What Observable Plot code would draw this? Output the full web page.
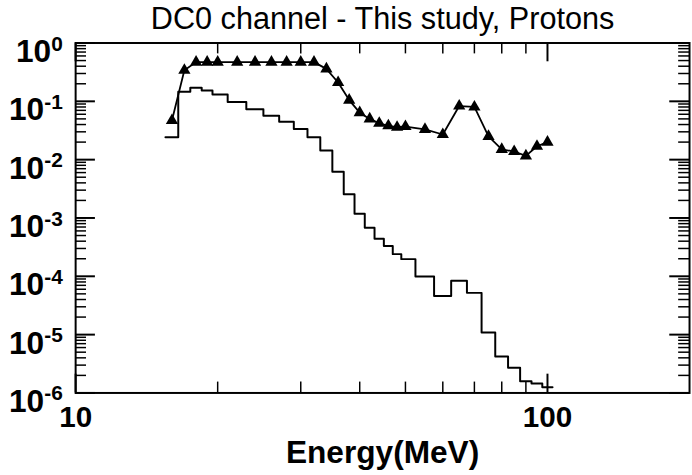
<!DOCTYPE html>
<html><head><meta charset="utf-8">
<script src="https://cdn.jsdelivr.net/npm/d3@7"></script>
<script src="https://cdn.jsdelivr.net/npm/@observablehq/plot@0.6"></script>
<style>
html,body{margin:0;padding:0;background:#fff;overflow:hidden;width:692px;height:475px}
svg{display:block}
</style></head><body><div id="chart"></div>
<script>
// ---- data ----
const titleText = "DC0 channel - This study, Protons";
const xLabel = "Energy(MeV)";
const energies = [16,17,18,19,20,22,24,26,28,30,32,34,36,38,40,42,44,46,48,50,55,60,65,70,75,80,85,90,95,100];
const triangleValues = [0.047,0.34,0.47,0.47,0.47,0.47,0.47,0.47,0.47,0.47,0.47,0.36,0.21,0.105,0.064,0.05,0.042,0.038,0.036,0.037,0.033,0.027,0.083,0.080,0.025,0.015,0.0138,0.0116,0.017,0.020];
const histValues = [0.0243,0.146,0.171,0.153,0.131,0.0975,0.0732,0.0564,0.0446,0.0335,0.0243,0.0144,0.0062,0.00255,0.00118,0.00068,0.00044,0.00033,0.00024,0.000197,9.9e-5,4.6e-5,8.4e-5,5.2e-5,1.09e-5,4.2e-6,2.7e-6,1.58e-6,1.45e-6,1.25e-6];
const yMajor = [1e-6,1e-5,1e-4,1e-3,1e-2,1e-1,1];
const yExponents = ["-6","-5","-4","-3","-2","-1","0"];
const xMajor = [10,100];
const xMajorLabels = ["10","100"];
const xMinor = [20,30,40,50,60,70,80,90];
const minorMult = [2,3,4,5,6,7,8,9];

// ---- derived tables ----
const yMinor = yMajor.slice(0,-1).flatMap(d => minorMult.map(m => m*d));
const triPts = energies.map((e,i) => ({x:e, y:triangleValues[i]}));
const stepPts = energies.flatMap((e,i) => {
  const prev = i > 0 ? energies[i-1] : e - (energies[1]-energies[0]);
  const next = i < energies.length-1 ? energies[i+1] : e + (e - energies[i-1]);
  return [{x:(prev+e)/2, y:histValues[i]}, {x:(e+next)/2, y:histValues[i]}];
});
const yLab = yMajor.map((v,i) => ({v, t: "10^" + yExponents[i]}));
const xLab = xMajor.map((v,i) => ({v, t: xMajorLabels[i]}));

const W = 700, H = 475, mL = 76, mR = 3, mT = 43, mB = 78;
const pw = W - mL - mR, ph = H - mT - mB;
const font = "Liberation Sans, Arial, Helvetica, sans-serif";

const chart = Plot.plot({
  width: W, height: H,
  marginLeft: mL, marginRight: mR, marginTop: mT, marginBottom: mB,
  style: {fontFamily: font, background: "#fff", color: "#000"},
  x: {type: "log", domain: [10, 200], axis: null},
  y: {type: "log", domain: [1e-6, 1], axis: null},
  marks: [
    // ticks (inward, all four sides)
    Plot.tickY(yMajor, {y: d => d, insetRight: pw - 20, stroke: "#000", strokeWidth: 2}),
    Plot.tickY(yMinor, {y: d => d, insetRight: pw - 11, stroke: "#000", strokeWidth: 1.5}),
    Plot.tickY(yMajor, {y: d => d, insetLeft: pw - 20, stroke: "#000", strokeWidth: 2}),
    Plot.tickY(yMinor, {y: d => d, insetLeft: pw - 11, stroke: "#000", strokeWidth: 1.5}),
    Plot.tickX(xMajor, {x: d => d, insetBottom: ph - 19, stroke: "#000", strokeWidth: 2}),
    Plot.tickX(xMinor, {x: d => d, insetBottom: ph - 11, stroke: "#000", strokeWidth: 1.5}),
    Plot.tickX(xMajor, {x: d => d, insetTop: ph - 19, stroke: "#000", strokeWidth: 2}),
    Plot.tickX(xMinor, {x: d => d, insetTop: ph - 11, stroke: "#000", strokeWidth: 1.5}),
    Plot.frame({stroke: "#000", strokeWidth: 2}),
    // histogram (step outline)
    Plot.line(stepPts, {x: "x", y: "y", stroke: "#000", strokeWidth: 2, curve: "linear"}),
    // triangle series
    Plot.line(triPts, {x: "x", y: "y", stroke: "#000", strokeWidth: 1.8}),
    Plot.dot(triPts, {x: "x", y: "y", symbol: "triangle", r: 4.6, fill: "#000", stroke: "none"}),
    // tick labels
    Plot.text(xLab, {x: "v", frameAnchor: "bottom", dy: 25, text: "t", lineAnchor: "middle",
      fontSize: 30, fontWeight: "bold", fill: "#000"}),
    Plot.text(yLab, {y: "v", frameAnchor: "left", dx: -13, dy: 9, textAnchor: "end", lineAnchor: "middle",
      text: "t", fontSize: 32, fontWeight: "bold", fill: "#000"}),
    // title and axis label
    Plot.text([titleText], {frameAnchor: "top", dy: -24, text: d => d, lineAnchor: "middle",
      fontSize: 31, fill: "#000"}),
    Plot.text([xLabel], {frameAnchor: "bottom", dy: 61, text: d => d, lineAnchor: "middle",
      fontSize: 32, fontWeight: "bold", fill: "#000"})
  ]
});

// superscript exponents on the y tick labels
d3.select(chart).selectAll("text").each(function() {
  const s = this.textContent;
  const m = /^10\^(.+)$/.exec(s);
  if (!m) return;
  this.textContent = "";
  const t = d3.select(this);
  t.append("tspan").text("10");
  t.append("tspan").attr("dy", "-0.55em").attr("font-size", "0.66em").text(m[1]);
});

document.getElementById("chart").appendChild(chart);
</script></body></html>
